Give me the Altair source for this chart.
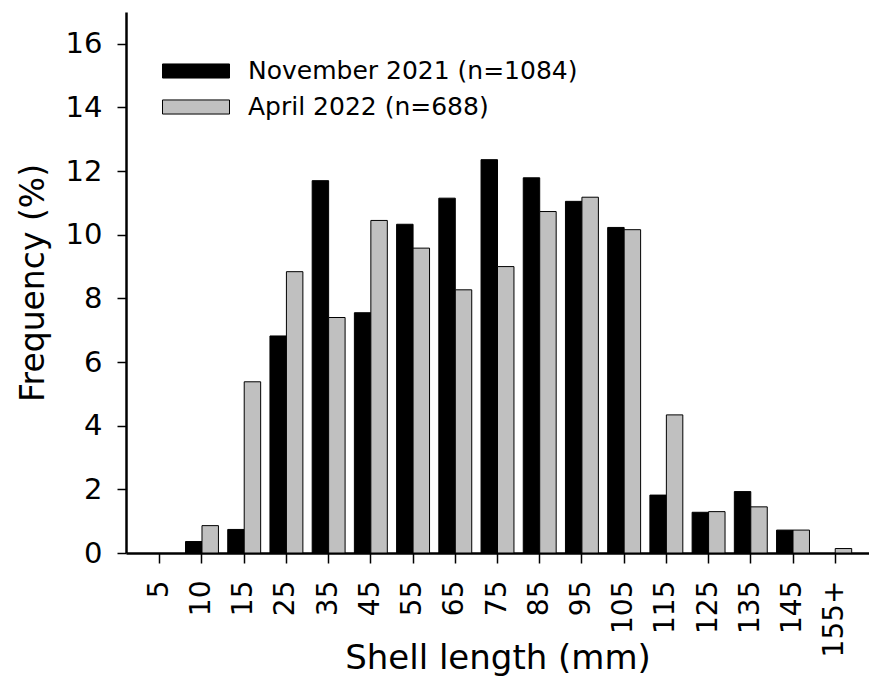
import altair as alt
import pandas as pd

# Shell length classes (mm) and percentage frequency per sampling date
size_classes = ["5", "10", "15", "25", "35", "45", "55", "65", "75", "85",
                "95", "105", "115", "125", "135", "145", "155+"]
nov_2021 = [0, 0.36, 0.74, 6.82, 11.70, 7.55, 10.33, 11.15, 12.36, 11.79,
            11.05, 10.23, 1.82, 1.28, 1.93, 0.72, 0]
apr_2022 = [0, 0.86, 5.38, 8.84, 7.40, 10.45, 9.58, 8.27, 9.00, 10.73,
            11.18, 10.16, 4.34, 1.30, 1.45, 0.72, 0.14]
series_labels = ["November 2021 (n=1084)", "April 2022 (n=688)"]
series_fills = ["#000000", "#c0c0c0"]

rows = []
for label, values in zip(series_labels, [nov_2021, apr_2022]):
    for cls, v in zip(size_classes, values):
        rows.append({"size": cls, "series": label, "freq": v})
df = pd.DataFrame(rows)

FONT = "DejaVu Sans"

chart = (
    alt.Chart(df)
    .transform_filter("datum.freq > 0")
    .mark_bar(stroke="black", strokeWidth=1)
    .encode(
        x=alt.X(
            "size:N",
            sort=size_classes,
            scale=alt.Scale(domain=size_classes, paddingInner=0.22, paddingOuter=0.41),
            axis=alt.Axis(
                title="Shell length (mm)",
                labelAngle=-90,
                labelOverlap=False,
                tickSize=10,
                tickWidth=1.5,
                domainWidth=2.5,
                labelPadding=17,
                labelFontSize=28,
                titleFontSize=34,
                titleY=115,
                titleBaseline="alphabetic",
            ),
        ),
        xOffset=alt.XOffset("series:N", sort=series_labels,
                            scale=alt.Scale(domain=series_labels,
                                            paddingInner=0, paddingOuter=0)),
        y=alt.Y(
            "freq:Q",
            scale=alt.Scale(domain=[0, 17], nice=False),
            axis=alt.Axis(
                title="Frequency (%)",
                values=list(range(0, 17, 2)),
                tickSize=9,
                tickWidth=1.5,
                domainWidth=2.5,
                labelPadding=15,
                labelFontSize=29,
                titleFontSize=33,
                titleX=-83,
                titleBaseline="alphabetic",
            ),
        ),
        color=alt.Color(
            "series:N",
            sort=series_labels,
            scale=alt.Scale(domain=series_labels, range=series_fills),
            legend=alt.Legend(
                title=None,
                orient="none",
                legendX=36,
                legendY=44,
                padding=0,
                symbolType="M-1,-0.21H1V0.21H-1Z",
                symbolSize=4489,
                symbolStrokeColor="black",
                symbolStrokeWidth=1,
                symbolOpacity=1,
                clipHeight=30,
                rowPadding=6,
                labelOffset=18,
                labelFontSize=25,
                labelFont=FONT,
                labelColor="black",
                labelLimit=0,
            ),
        ),
    )
    .properties(
        width=743,
        height=541,
        autosize=alt.AutoSizeParams(type="none"),
        padding={"left": 126, "top": 12, "right": 0, "bottom": 131},
    )
    .configure_view(strokeWidth=0)
    .configure_axis(
        grid=False,
        domainColor="black",
        tickColor="black",
        labelColor="black",
        titleColor="black",
        labelFont=FONT,
        titleFont=FONT,
        titleFontWeight="normal",
    )
)

chart.save("out.html", embed_options={"renderer": "svg", "actions": False})
